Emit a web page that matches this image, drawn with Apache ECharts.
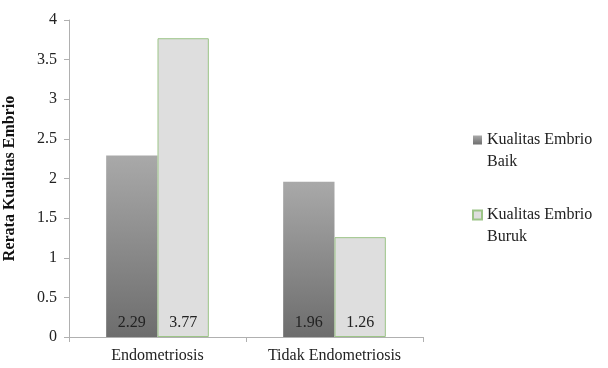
<!DOCTYPE html>
<html style="height: 100%">
<head>
<meta charset="utf-8">
<title>Rerata Kualitas Embrio</title>
<script src="https://cdn.jsdelivr.net/npm/echarts@6/dist/echarts.min.js"></script>
</head>
<body style="height: 100%; margin: 0; background: #fff">
<div id="container" style="width: 608px; height: 368px"></div>
<script type="text/javascript">
var categories = ['Endometriosis', 'Tidak Endometriosis'];
var baik = [2.29, 1.96];
var buruk = [3.77, 1.26];
var yTicks = [0, 0.5, 1, 1.5, 2, 2.5, 3, 3.5, 4];

var myChart = echarts.init(document.getElementById('container'));
var font = "'Liberation Serif', 'Times New Roman', 'DejaVu Serif', serif";
var labelStyle = {
    show: true,
    position: 'insideBottom',
    distance: 6,
    color: '#222',
    fontFamily: font,
    fontSize: 16,
    formatter: function (p) { return p.value.toFixed(2); }
};

var option = {
    animation: false,
    backgroundColor: '#fff',
    grid: { left: 69, right: 185, top: 20, bottom: 31, containLabel: false, outerBoundsMode: 'none' },
    legend: {
        orient: 'vertical',
        left: 472,
        top: 107,
        padding: 0,
        itemWidth: 9,
        itemHeight: 9,
        itemGap: 9,
        icon: 'rect',
        textStyle: { fontFamily: font, fontSize: 16, color: '#222', lineHeight: 22 },
        // blank first line keeps the icon level with the first text line
        formatter: function (name) { return '\n' + name.replace('Embrio ', 'Embrio\n'); },
        data: ['Kualitas Embrio Baik', 'Kualitas Embrio Buruk']
    },
    xAxis: {
        type: 'category',
        data: categories,
        axisLine: { lineStyle: { color: '#b0b0b0' } },
        axisTick: { show: true, length: 5, lineStyle: { color: '#b0b0b0' } },
        axisLabel: { fontFamily: font, fontSize: 16, color: '#222', margin: 11 }
    },
    yAxis: {
        type: 'value',
        min: 0,
        max: 4,
        interval: 0.5,
        name: 'Rerata Kualitas Embrio',
        nameLocation: 'middle',
        nameGap: 51,
        nameTextStyle: { fontFamily: font, fontSize: 16, fontWeight: 'bold', color: '#111' },
        axisLine: { show: true, lineStyle: { color: '#b0b0b0' } },
        axisTick: { show: true, length: 5, lineStyle: { color: '#b0b0b0' } },
        splitLine: { show: false },
        axisLabel: {
            fontFamily: font, fontSize: 16, color: '#222', margin: 12,
            formatter: function (v) { return yTicks.indexOf(v) >= 0 ? String(v) : ''; }
        }
    },
    series: [
        {
            name: 'Kualitas Embrio Baik',
            type: 'bar',
            data: baik,
            barGap: '0%',
            barCategoryGap: '42%',
            itemStyle: {
                color: new echarts.graphic.LinearGradient(0, 0, 0, 1, [
                    { offset: 0, color: '#a9a9a9' },
                    { offset: 1, color: '#6d6d6d' }
                ])
            },
            label: labelStyle
        },
        {
            name: 'Kualitas Embrio Buruk',
            type: 'bar',
            data: buruk,
            itemStyle: { color: '#dedede', borderColor: '#9cc487', borderWidth: 1 },
            label: labelStyle
        }
    ]
};
myChart.setOption(option);
</script>
</body>
</html>
